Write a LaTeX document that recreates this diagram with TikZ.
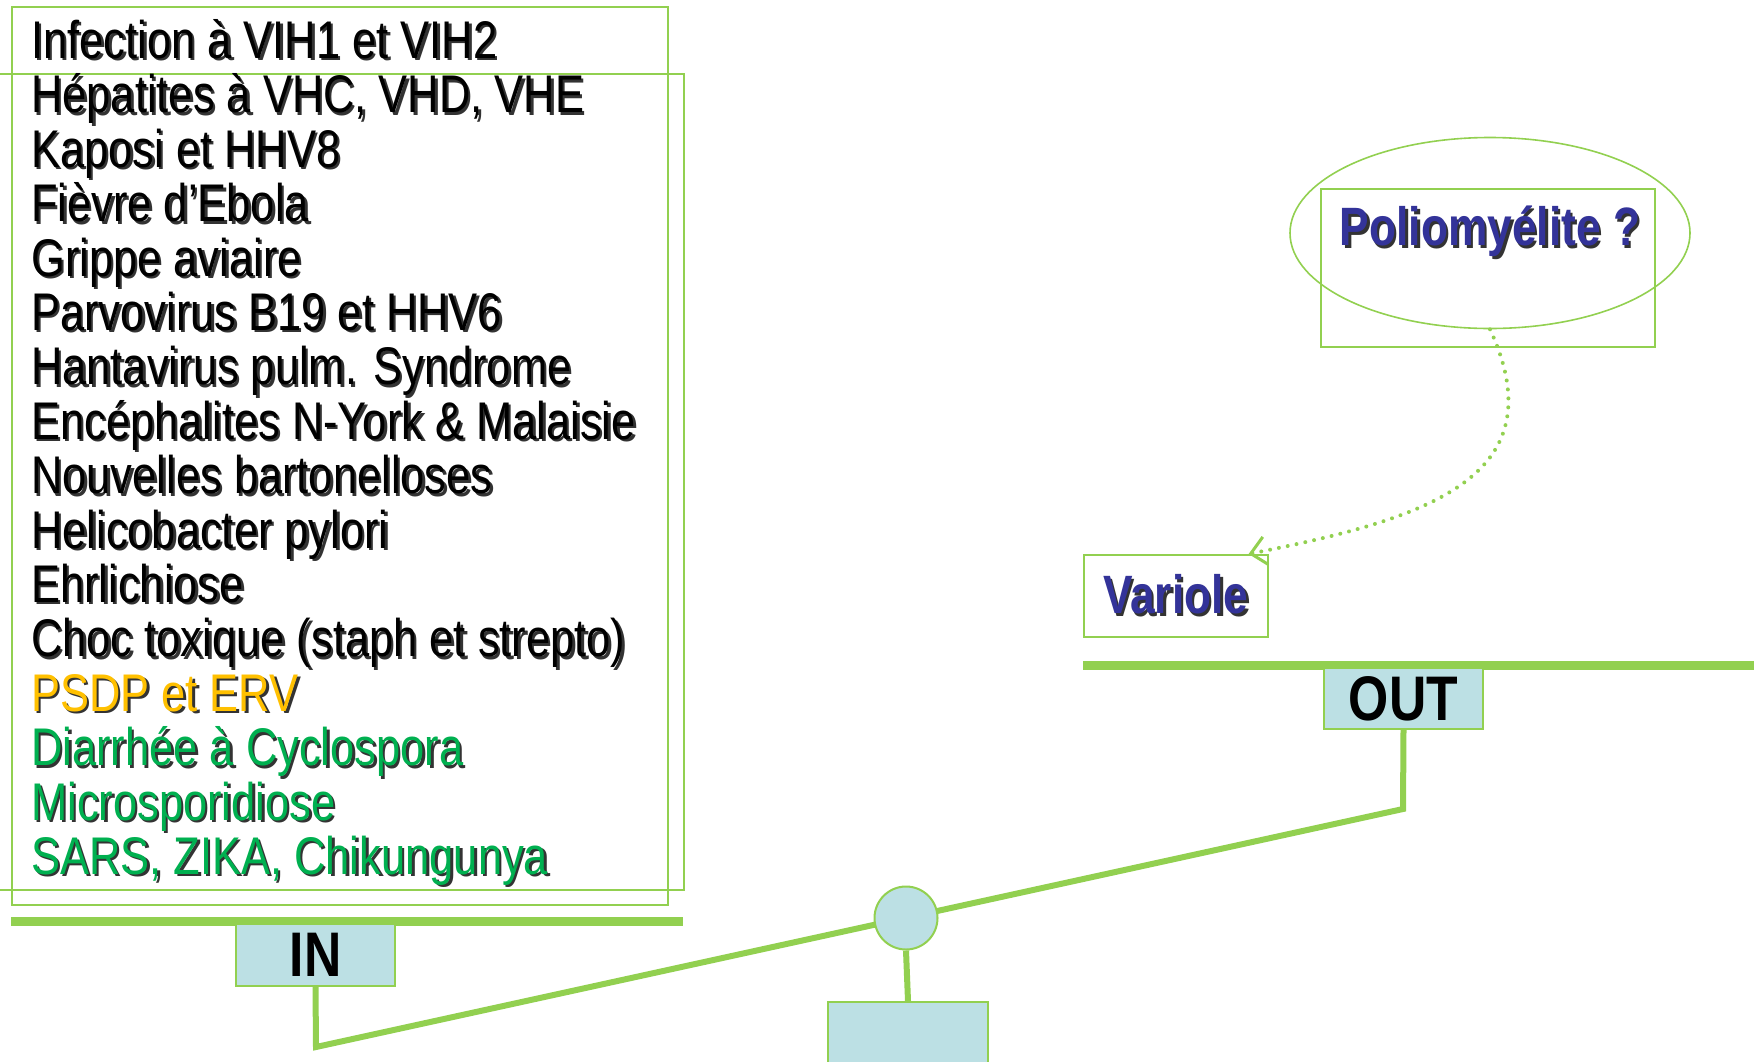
\documentclass[tikz,border=0pt]{standalone}
\usepackage{fontspec}
\setmainfont{Liberation Sans}[FakeStretch=0.82]
\usetikzlibrary{arrows.meta,shapes.geometric}
\definecolor{lgreen}{HTML}{92D050}
\definecolor{lblue}{HTML}{BCE0E4}
\definecolor{dblue}{HTML}{333399}
\definecolor{orng}{HTML}{FFC000}
\definecolor{gtext}{HTML}{00B050}
\newcommand\shtext[1]{\makebox[0pt][l]{\kern2.5pt\raisebox{-2.5pt}{\color{black!80}#1}}#1}
\begin{document}
\begin{tikzpicture}[x=1pt,y=-1pt,
  frame/.style={draw=lgreen,line width=1.6pt,inner sep=0pt,anchor=north west},
  item/.style={anchor=base west,inner sep=0pt,font=\fontsize{53}{54}\selectfont},
  bar/.style={draw=lgreen,line width=9pt},
  beam/.style={draw=lgreen,line width=6pt},
  tag/.style={draw=lgreen,fill=lblue,line width=2pt,inner sep=0pt,anchor=north west,font=\bfseries\fontsize{63}{63}\selectfont},
  bluetxt/.style={text=dblue,font=\bfseries\fontsize{54}{54}\selectfont}]
\useasboundingbox (0,0) rectangle (1761,1061);
\clip (0,0) rectangle (1761,1061);

% text frames
\node[frame,minimum width=656pt,minimum height=898pt] (box1) at (11,6) {};
\node[frame,minimum width=688pt,minimum height=816pt] (box2) at (-5,73) {};

% list
\node[item] (l1) at (31,58.4) {\shtext{Infection à VIH1 et VIH2}};
\node[item] (l2) at (31,112.8) {\shtext{Hépatites à VHC, VHD, VHE}};
\node[item] (l3) at (31,167.2) {\shtext{Kaposi et HHV8}};
\node[item] (l4) at (31,221.6) {\shtext{Fièvre d’Ebola}};
\node[item] (l5) at (31,276) {\shtext{Grippe aviaire}};
\node[item] (l6) at (31,330.4) {\shtext{Parvovirus B19 et HHV6}};
\node[item] (l7) at (31,384.8) {\shtext{Hantavirus pulm. Syndrome}};
\node[item] (l8) at (31,439.2) {\shtext{Encéphalites N-York \& Malaisie}};
\node[item] (l9) at (31,493.6) {\shtext{Nouvelles bartonelloses}};
\node[item] (l10) at (31,548) {\shtext{Helicobacter pylori}};
\node[item] (l11) at (31,602.4) {\shtext{Ehrlichiose}};
\node[item] (l12) at (31,656.8) {\shtext{Choc toxique (staph et strepto)}};
\node[item,text=orng] (l13) at (31,711.2) {\shtext{PSDP et ERV}};
\node[item,text=gtext] (l14) at (31,765.6) {\shtext{Diarrhée à Cyclospora}};
\node[item,text=gtext] (l15) at (31,820) {\shtext{Microsporidiose}};
\node[item,text=gtext] (l16) at (31,874.4) {\shtext{SARS, ZIKA, Chikungunya}};

% bars
\draw[bar] (11,921) -- (683,921);
\draw[bar] (1083,665) -- (1754,665);

% tags
\node[tag,minimum width=159pt,minimum height=62pt] (in) at (235,923) {IN};
\node[tag,minimum width=159pt,minimum height=61pt] (out) at (1323,667) {OUT};

% beam
\coordinate (inc) at (316,1047);
\coordinate (outc) at (1403,809);
\draw[beam] (in.south) -- (inc) -- (outc) -- (out.south);

% pivot and base
\node[circle,draw=lgreen,fill=lblue,line width=2pt,minimum size=63pt,inner sep=0pt] (piv) at (906,918) {};
\node[draw=lgreen,fill=lblue,line width=2pt,minimum width=160pt,minimum height=100pt,anchor=north west] (base) at (827,1001) {};
\draw[beam] (piv.south) -- (base.north);

% Variole
\node[frame,bluetxt,minimum width=184pt,minimum height=82pt] (var) at (1083,554) {\shtext{Variole}};

% Poliomyelite
\node[frame,minimum width=334pt,minimum height=158pt] (pbox) at (1320,188) {};
\node[ellipse,draw=lgreen,line width=1.6pt,minimum width=400pt,minimum height=191pt,inner sep=0pt,bluetxt] (polio) at (1490,233) {\makebox[0pt]{\raisebox{-7pt}{\shtext{Poliomyélite ?}}}};

% dotted arrow
\draw[lgreen,line width=4pt,line cap=round,dash pattern=on 0pt off 9pt,
  -{Straight Barb[length=15pt,width=28pt,line width=3pt]}]
  (polio.south) .. controls (1560,480) and (1420,520) .. ([xshift=-20pt]var.north east);
\end{tikzpicture}
\end{document}
